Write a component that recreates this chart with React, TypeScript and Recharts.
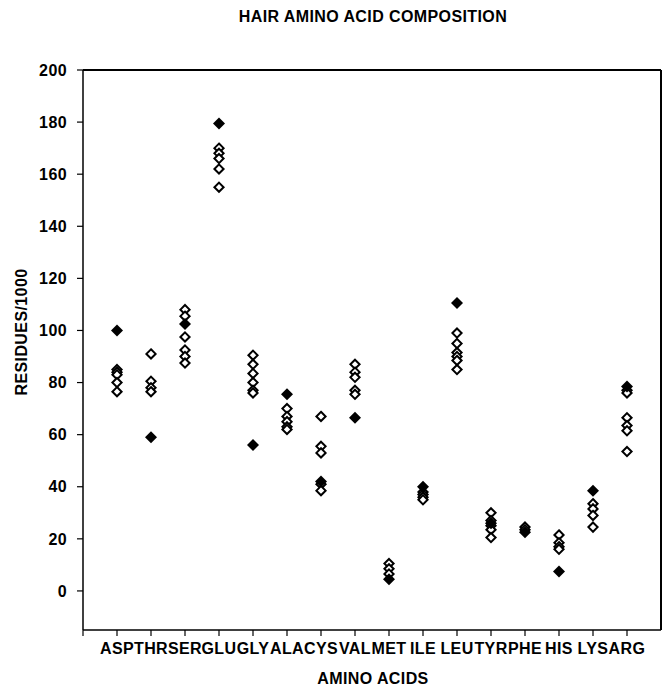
import React from 'react';
import {ScatterChart, Scatter, XAxis, YAxis, ReferenceLine} from 'recharts';

const aminoAcids = ['ASP', 'THR', 'SER', 'GLU', 'GLY', 'ALA', 'CYS', 'VAL', 'MET', 'ILE', 'LEU', 'TYR', 'PHE', 'HIS', 'LYS', 'ARG'];

// one filled sample per amino acid
const filledValues = [100, 59, 102.5, 179.5, 56, 75.5, 42, 66.5, 4.5, 40, 110.5, 26, 22.5, 7.5, 38.5, 78.5];

// open samples, per amino acid
const openValues = [
  [85, 84, 83, 80, 76.5],
  [91, 80.5, 78, 76.5],
  [108, 105.5, 97.5, 92.5, 90, 87.5],
  [170, 168, 166, 162, 155],
  [90.5, 87, 83.5, 80, 77, 76],
  [70, 67, 65, 63, 62],
  [67, 55.5, 53, 41, 38.5],
  [87, 84, 82, 77, 75.5],
  [10.5, 8.5, 6.5],
  [38, 37, 36, 35],
  [99, 95, 91.5, 90, 88.5, 85],
  [30, 27, 25, 23.5, 20.5],
  [24.5, 23.5],
  [21.5, 18.5, 17, 16],
  [33.5, 31.5, 29, 24.5],
  [77, 76, 66.5, 63.5, 61.5, 53.5],
];

const yTicks = [0, 20, 40, 60, 80, 100, 120, 140, 160, 180, 200];
const xTicks = [0, 1, 2, 3, 4, 5, 6, 7, 8, 9, 10, 11, 12, 13, 14, 15, 16];

const filledData = filledValues.map((v, i) => ({x: i + 1, y: v}));
const openData = openValues.flatMap((vals, i) => vals.map(v => ({x: i + 1, y: v})));

const font = "Arial, 'Liberation Sans', sans-serif";

const OpenDiamond = (props: any) => {
  const {cx, cy} = props;
  const r = 4.6;
  return <polygon points={`${cx},${cy - r} ${cx + r},${cy} ${cx},${cy + r} ${cx - r},${cy}`} fill="#fff" stroke="#000" strokeWidth={2} />;
};

const FilledDiamond = (props: any) => {
  const {cx, cy} = props;
  const r = 6;
  return <polygon points={`${cx},${cy - r} ${cx + r},${cy} ${cx},${cy + r} ${cx - r},${cy}`} fill="#000" />;
};

export default function App() {
  return (
    <div style={{position: 'absolute', left: 0, top: 0, width: 662, height: 691, background: '#fff', fontFamily: font}}>
      <div style={{position: 'absolute', top: 8, left: 84, width: 578, textAlign: 'center', fontWeight: 'bold', fontSize: 16, letterSpacing: 0.4}}>
        HAIR AMINO ACID COMPOSITION
      </div>
      <ScatterChart width={662} height={691} margin={{top: 70, right: 1, bottom: 0, left: 0}}>
        <XAxis
          type="number"
          dataKey="x"
          domain={[0, 17]}
          ticks={xTicks}
          interval={0}
          tickFormatter={(v: number) => (v === 0 ? '' : aminoAcids[v - 1])}
          height={61}
          tickSize={6}
          tickMargin={7}
          axisLine={{stroke: '#000', strokeWidth: 1.5}}
          tickLine={{stroke: '#000', strokeWidth: 1.2}}
          tick={{fill: '#000', fontSize: 16, fontWeight: 'bold', fontFamily: font, letterSpacing: 0.4}}
        />
        <YAxis
          type="number"
          dataKey="y"
          domain={[-15, 200]}
          ticks={yTicks}
          interval={0}
          allowDataOverflow
          width={83}
          tickSize={6}
          tickMargin={10}
          axisLine={{stroke: '#000', strokeWidth: 1.5}}
          tickLine={{stroke: '#000', strokeWidth: 1.2}}
          tick={{fill: '#000', fontSize: 16, fontWeight: 'bold', fontFamily: font, letterSpacing: 0.4}}
        />
        <ReferenceLine y={200} stroke="#000" strokeWidth={2} />
        <ReferenceLine x={17} stroke="#000" strokeWidth={2} />
        <Scatter data={openData} shape={OpenDiamond} isAnimationActive={false} />
        <Scatter data={filledData} shape={FilledDiamond} isAnimationActive={false} />
      </ScatterChart>
      <div style={{position: 'absolute', top: 670, left: 84, width: 578, textAlign: 'center', fontWeight: 'bold', fontSize: 16, letterSpacing: 0.4}}>
        AMINO ACIDS
      </div>
      <div
        style={{
          position: 'absolute',
          left: 22,
          top: 332,
          transform: 'translate(-50%, -50%) rotate(-90deg)',
          whiteSpace: 'nowrap',
          fontWeight: 'bold',
          fontSize: 16,
          letterSpacing: 0.4,
        }}
      >
        RESIDUES/1000
      </div>
    </div>
  );
}
